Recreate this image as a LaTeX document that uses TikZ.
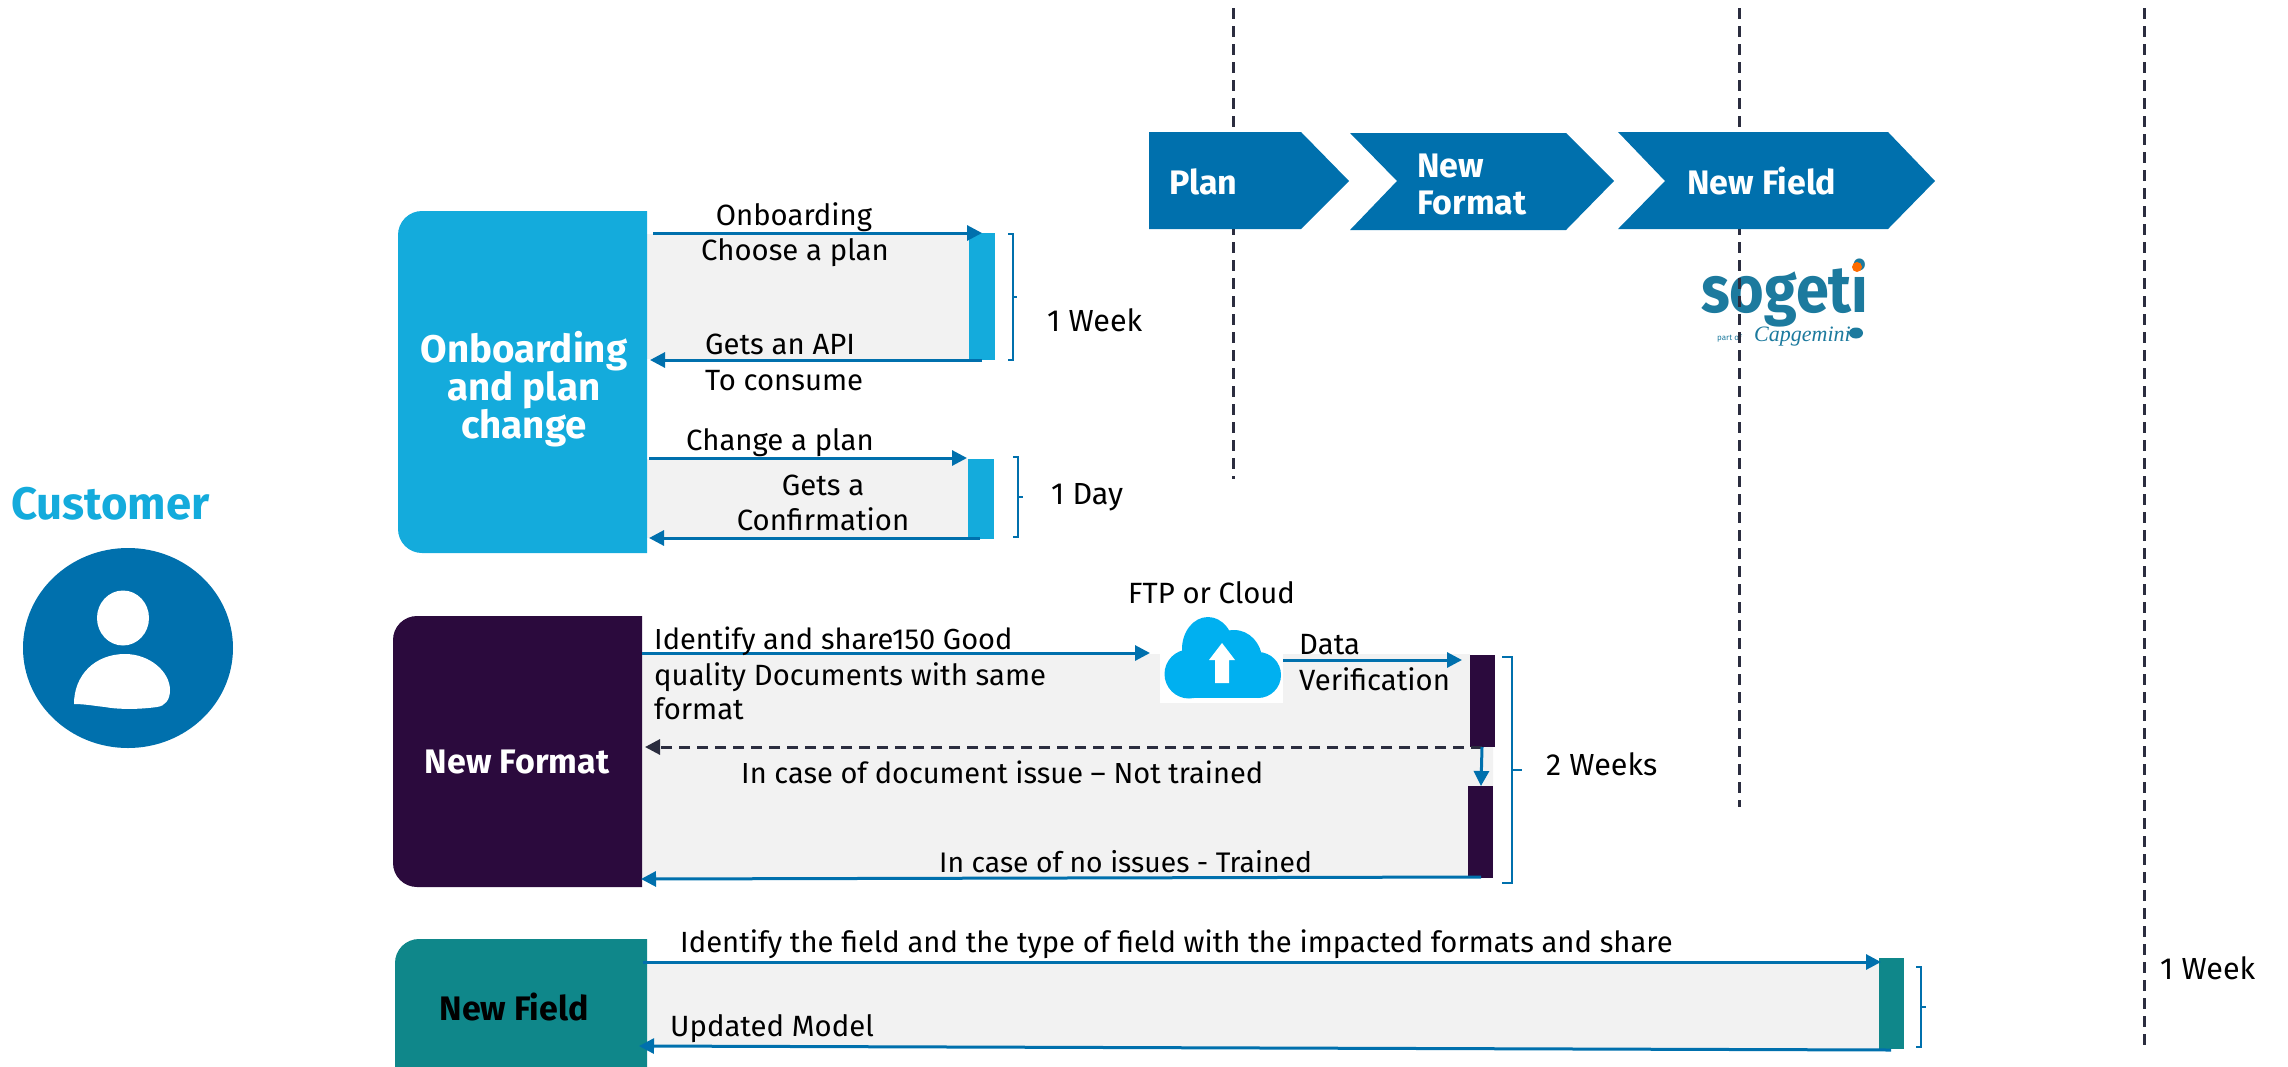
\documentclass[tikz,border=0pt]{standalone}
\usepackage{fontspec}
\setmainfont{Fira Sans}
\newfontfamily\capfont{Liberation Serif}
\usetikzlibrary{arrows.meta}
\definecolor{cblue}{HTML}{0070AD}
\definecolor{ccyan}{HTML}{14ABDC}
\definecolor{cpurple}{HTML}{2B0A3D}
\definecolor{cteal}{HTML}{0F878A}
\definecolor{cgrey}{HTML}{F2F2F2}
\definecolor{cdash}{HTML}{2B2D3F}
\definecolor{ccloud}{HTML}{00B0F0}
\definecolor{csog}{HTML}{1C7A9E}
\tikzset{
  x=1pt,y=-1pt,
  lbl/.style={font=\fontsize{29.3}{35.5}\selectfont,inner sep=0,text=black},
  lblw/.style={lbl,anchor=base west},
  lblc/.style={lbl,anchor=base},
  ttl/.style={font=\fontsize{34}{38}\selectfont\bfseries,inner sep=0,text=white,align=center},
  chev/.style={fill=cblue},
  chevt/.style={font=\fontsize{34}{37}\selectfont\bfseries,inner sep=0,text=white,anchor=base west},
  bar/.style={inner sep=0,minimum width=#1,anchor=north west},
  flow/.style={draw=cblue,line width=3pt,-{Triangle[length=15pt,width=15pt]}},
  back/.style={draw=cdash,line width=3pt,dash pattern=on 11pt off 7pt,-{Triangle[length=15pt,width=15pt]}},
  life/.style={draw=cdash,line width=3pt,dash pattern=on 11pt off 7pt},
  brc/.style={draw=cblue,line width=1.2pt},
  durn/.style={lblw,font=\fontsize{30.5}{35.5}\selectfont},
}
\begin{document}
\begin{tikzpicture}
\useasboundingbox (0,0) rectangle (2288,1066);
% grey bands
\fill[cgrey] (647,234) rectangle (969,359);
\fill[cgrey] (647,459) rectangle (968,538);
\fill[cgrey] (642,654) -- (1470,654) -- (1470,747) -- (1493,747) -- (1493,878) -- (642,878) -- cycle;
\fill[white] (1160,654) rectangle (1283,703);
\fill[cgrey] (647,962) -- (1879,962) -- (1879,1049) -- (647,1045) -- cycle;
% sogeti logo
\fill[white] (1697,248) rectangle (1869,347);
\node[inner sep=0,anchor=base west,text=csog,font=\fontsize{66}{70}\selectfont\bfseries] (sog) at (1701,312) {\scalebox{0.9}[1]{sogeti}};
\fill[orange!85!red] (1857,267) circle[radius=5];
\node[inner sep=0,anchor=base west,text=csog,font=\fontsize{8}{9}\selectfont] (partof) at (1717,340) {part of};
\node[inner sep=0,anchor=base west,text=csog,font=\capfont\itshape\fontsize{22}{24}\selectfont] (capg) at (1754,341) {Capgemini};
\fill[csog] (1856,333) ellipse[x radius=7,y radius=5.5];
% lifelines
\coordinate (l1t) at (1233,8); \coordinate (l1b) at (1233,479);
\coordinate (l2t) at (1739,8); \coordinate (l2b) at (1739,807);
\coordinate (l3t) at (2144,8); \coordinate (l3b) at (2144,1049);
\draw[life] (l1t) -- (l1b);
\draw[life] (l2t) -- (l2b);
\draw[life] (l3t) -- (l3b);
% chevrons
\fill[chev] (1149,132) -- (1301,132) -- (1349,181) -- (1301,229) -- (1149,229) -- cycle;
\fill[chev] (1350,133) -- (1566,133) -- (1614,181) -- (1566,230) -- (1350,230) -- (1397,181) -- cycle;
\fill[chev] (1618,132) -- (1888,132) -- (1935,181) -- (1888,229) -- (1618,229) -- (1665,181) -- cycle;
\node[chevt] (cplan) at (1169,194.5) {Plan};
\node[chevt] (cnew) at (1417,177.5) {New};
\node[chevt] (cfmt) at (1417,214.5) {Format};
\node[chevt] (cfld) at (1687,194.5) {New Field};
% customer
\node[inner sep=0,anchor=base west,text=ccyan,font=\fontsize{45.5}{46}\selectfont\bfseries] (cust) at (11,519) {Customer};
\fill[cblue] (128,648) ellipse[x radius=105,y radius=100];
\fill[white] (123,618) ellipse[x radius=26,y radius=27.5];
\fill[white] (74,704) .. controls (74,675) and (95,654) .. (125,654) .. controls (150,654) and (170,672) .. (170,690) .. controls (170,700) and (165,706) .. (157,707) .. controls (135,710) and (115,709) .. (105,707) .. controls (95,706) and (85,704) .. (74,704) -- cycle;
% actor boxes
\fill[ccyan] (647,211) [rounded corners=24pt] -- (398,211) -- (398,553) [sharp corners] -- (647,553) -- cycle;
\node[ttl,font=\fontsize{38.5}{38}\selectfont\bfseries] (onb) at (524,389) {Onboarding\\and plan\\change};
\fill[cpurple] (642,616) [rounded corners=24pt] -- (393,616) -- (393,887) [sharp corners] -- (642,887) -- cycle;
\node[ttl] (nfm) at (517,762) {New Format};
\fill[cteal] (647,939) [rounded corners=24pt] -- (395,939) -- (395,1090) [sharp corners] -- (647,1090) -- cycle;
\node[ttl,text=black] (nfd) at (514,1007) {New Field};
% activation bars
\node[bar=26pt,minimum height=127pt,fill=ccyan] (b1) at (969,233) {};
\node[bar=26pt,minimum height=80pt,fill=ccyan] (b2) at (968,459) {};
\node[bar=25pt,minimum height=92pt,fill=cpurple] (b3) at (1470,655) {};
\node[bar=25pt,minimum height=92pt,fill=cpurple] (b4) at (1468,786) {};
\node[bar=25pt,minimum height=91pt,fill=cteal] (b5) at (1879,958) {};
% cloud
\begin{scope}[ccloud]
\fill (1189,674) circle[radius=24.5];
\fill (1208,649) ellipse[x radius=26,y radius=32];
\fill (1234,660) ellipse[x radius=28,y radius=30];
\fill (1258,675) circle[radius=23];
\fill (1190,670) rectangle (1258,698);
\end{scope}
\node[inner sep=0,minimum width=117pt,minimum height=81pt] (cloud) at (1222.5,657.5) {};
\fill[white] (1222,643) -- (1235,660) -- (1229,660) -- (1229,683) -- (1215,683) -- (1215,660) -- (1209,660) -- cycle;
% connectors
\coordinate (a1s) at (653,233); \coordinate (a1e) at (982,233);
\coordinate (a2s) at (982,360); \coordinate (a2e) at (650,360);
\coordinate (a3s) at (649,458); \coordinate (a3e) at (967,458);
\coordinate (a4s) at (980,538); \coordinate (a4e) at (649,538);
\coordinate (a5s) at (642,653); \coordinate (a5e) at (1150,653);
\coordinate (a6s) at (1283,660); \coordinate (a6e) at (1462,660);
\coordinate (a7s) at (1482,747); \coordinate (a7e) at (645,747);
\coordinate (a8s) at (1482,747); \coordinate (a8e) at (1481,786);
\coordinate (a9s) at (1481,877); \coordinate (a9e) at (641,879);
\coordinate (a10s) at (643,962); \coordinate (a10e) at (1881,962);
\coordinate (a11s) at (1891,1050); \coordinate (a11e) at (639,1046);
\draw[flow] (a1s) -- (a1e);
\draw[flow] (a2s) -- (a2e);
\draw[flow] (a3s) -- (a3e);
\draw[flow] (a4s) -- (a4e);
\draw[flow] (a5s) -- (a5e);
\draw[flow] (a6s) -- (a6e);
\draw[back] (a7s) -- (a7e);
\draw[flow] (a8s) -- (a8e);
\draw[flow] (a9s) -- (a9e);
\draw[flow] (a10s) -- (a10e);
\draw[flow] (a11s) -- (a11e);
% braces
\draw[brc] (1008,234) -- (1013,234) -- (1013,360) -- (1008,360) (1013,297) -- (1017,297);
\draw[brc] (1013,457) -- (1018,457) -- (1018,537) -- (1013,537) (1018,497) -- (1023,497);
\draw[brc] (1502,657) -- (1512,657) -- (1512,883) -- (1502,883) (1512,770) -- (1522,770);
\draw[brc] (1916,967) -- (1921,967) -- (1921,1047) -- (1916,1047) (1921,1007) -- (1926,1007);
% labels
\node[lblc] (t1) at (794,225) {Onboarding};
\node[lblc] (t2) at (795,260) {Choose a plan};
\node[lblw] (t3) at (705,354) {Gets an API};
\node[lblw] (t4) at (705,390) {To consume};
\node[lblc] (t5) at (780,450) {Change a plan};
\node[lblc] (t6) at (823,495) {Gets a};
\node[lblc] (t7) at (823,530) {Confirmation};
\node[durn] (w1) at (1047,331) {1 Week};
\node[durn] (w2) at (1051,504) {1 Day};
\node[lblw,font=\fontsize{29}{35.5}\selectfont] (t8) at (654,649) {Identify and share150 Good};
\node[lblw] (t9) at (654,685) {quality Documents with same};
\node[lblw] (t10) at (654,719) {format};
\node[lblw] (t11) at (1128,603) {FTP or Cloud};
\node[lblw] (t12) at (1299,654) {Data};
\node[lblw] (t13) at (1299,690) {Verification};
\node[lblw,font=\fontsize{29}{35.5}\selectfont] (t14) at (741,783) {In case of document issue – Not trained};
\node[lblw,font=\fontsize{28.3}{35.5}\selectfont] (t15) at (939,872) {In case of no issues - Trained};
\node[durn] (w3) at (1546,775) {2 Weeks};
\node[lblw,font=\fontsize{29.2}{35.5}\selectfont] (t16) at (680,952) {Identify the field and the type of field with the impacted formats and share};
\node[lblw] (t17) at (670,1036) {Updated Model};
\node[durn] (w4) at (2160,979) {1 Week};
\end{tikzpicture}
\end{document}
